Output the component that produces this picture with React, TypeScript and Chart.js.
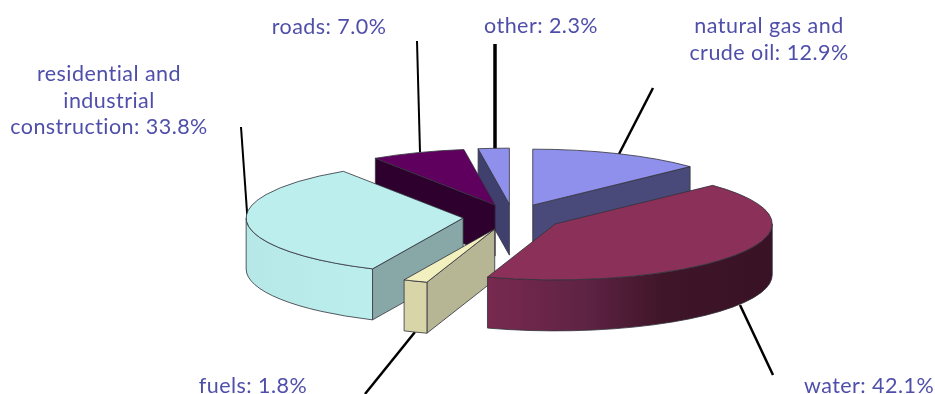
import React, { useEffect, useRef } from "react";
import { Chart, registerables } from "chart.js";

Chart.register(...registerables);

const categories = ["natural gas and crude oil", "water", "fuels", "residential and industrial construction", "roads", "other"];
const shares = [12.9, 42.1, 1.8, 33.8, 7.0, 2.3];
const labelLines = [["natural gas and", "crude oil"], ["water"], ["fuels"], ["residential and", "industrial", "construction"], ["roads"], ["other"]];

const topColors = ["#8f8fec", "#8b3058", "#f3f0bf", "#bdeeee", "#5f005f", "#8f8fec"];
const cutColors = ["#4a4a7a", "#6f284c", "#b7b694", "#88a8a8", "#2e002e", "#40406e"];
const rimStops: [number, string][][] = [
  [[0, "#4a4a7a"], [1, "#4a4a7a"]],
  [[0, "#78294f"], [0.35, "#5e2343"], [0.62, "#3f1528"], [1, "#391226"]],
  [[0, "#d8d6a8"], [1, "#d8d6a8"]],
  [[0, "#b6e8e8"], [0.6, "#bdeeee"], [1, "#8fb3b3"]],
  [[0, "#2e002e"], [1, "#2e002e"]],
  [[0, "#40406e"], [1, "#40406e"]],
];

// Back-to-front painting order of the exploded slices.
const paintOrder = [5, 4, 0, 3, 2, 1];

const RADIUS = 217;
const TILT = 0.258;
const EXPLODE = 50;
const DEPTH = 51;
const EDGE = "rgba(50,50,60,0.8)";

const labelCentres = [[769, 33], [869, 393], [253, 393], [109, 81], [329, 34], [541, 33]];
const LINE_STEP = 26.5;
const leaders = [
  [653, 88, 619, 154, 2.5],
  [740, 305, 773, 375, 2.5],
  [415, 332, 365, 394, 2.5],
  [241, 127, 248, 226, 2],
  [417, 41, 420, 152, 2],
  [495, 44, 495, 149, 3.5],
];

function drawSlice(ctx: CanvasRenderingContext2D, arc: any, index: number) {
  const a: number = arc.startAngle;
  const b: number = arc.endAngle;
  const mid = (a + b) / 2;
  const ax = arc.x + EXPLODE * Math.cos(mid);
  const ay = arc.y + EXPLODE * TILT * Math.sin(mid);
  const rim = (t: number): [number, number] => [ax + RADIUS * Math.cos(t), ay + RADIUS * TILT * Math.sin(t)];

  const cutFace = (t: number) => {
    const [x, y] = rim(t);
    ctx.beginPath();
    ctx.moveTo(ax, ay);
    ctx.lineTo(x, y);
    ctx.lineTo(x, y + DEPTH);
    ctx.lineTo(ax, ay + DEPTH);
    ctx.closePath();
    ctx.fillStyle = cutColors[index];
    ctx.fill();
    ctx.strokeStyle = EDGE;
    ctx.lineWidth = 1;
    ctx.stroke();
  };

  // Only the walls that face the viewer are painted.
  if (Math.cos(a) < 0) cutFace(a);
  if (Math.cos(b) > 0) cutFace(b);

  const TAU = Math.PI * 2;
  const from = Math.max(a, 0);
  const to = Math.min(b, Math.PI);
  const wrappedFrom = a < 0 && b <= 0 ? a + TAU : from;
  const wrappedTo = a < 0 && b <= 0 ? b + TAU : to;
  if (wrappedFrom < wrappedTo && wrappedTo <= Math.PI) {
    const [x0] = rim(wrappedTo);
    const [x1] = rim(wrappedFrom);
    const lo = Math.min(x0, x1);
    const hi = Math.max(x0, x1, ax + (wrappedFrom <= 0 ? RADIUS : 0));
    const gradient = ctx.createLinearGradient(lo, 0, hi, 0);
    rimStops[index].forEach(([stop, colour]) => gradient.addColorStop(stop, colour));
    ctx.beginPath();
    ctx.ellipse(ax, ay, RADIUS, RADIUS * TILT, 0, wrappedFrom, wrappedTo);
    ctx.ellipse(ax, ay + DEPTH, RADIUS, RADIUS * TILT, 0, wrappedTo, wrappedFrom, true);
    ctx.closePath();
    ctx.fillStyle = gradient;
    ctx.fill();
    ctx.strokeStyle = EDGE;
    ctx.lineWidth = 1;
    ctx.stroke();
  }

  // The library's arc element paints the top face, squashed into the tilted plane.
  ctx.save();
  ctx.translate(ax, ay);
  ctx.scale(1, TILT);
  ctx.translate(-arc.x, -arc.y);
  arc.draw(ctx);
  ctx.restore();

  ctx.beginPath();
  ctx.moveTo(ax, ay);
  ctx.ellipse(ax, ay, RADIUS, RADIUS * TILT, 0, a, b);
  ctx.closePath();
  ctx.strokeStyle = EDGE;
  ctx.lineWidth = 1;
  ctx.stroke();
}

const tiltedPie = {
  id: "tiltedPie",
  beforeDatasetsDraw(chart: any) {
    const { ctx } = chart;
    ctx.save();
    ctx.strokeStyle = "#000";
    leaders.forEach(([x0, y0, x1, y1, w]) => {
      ctx.lineWidth = w;
      ctx.beginPath();
      ctx.moveTo(x0, y0);
      ctx.lineTo(x1, y1);
      ctx.stroke();
    });
    ctx.restore();
  },
  beforeDatasetDraw(chart: any, args: any) {
    const { ctx } = chart;
    const arcs = args.meta.data;
    ctx.save();
    paintOrder.forEach((i) => drawSlice(ctx, arcs[i], i));
    ctx.restore();
    return false;
  },
  afterDatasetsDraw(chart: any) {
    const { ctx } = chart;
    ctx.save();
    ctx.font = "21.5px Lato";
    ctx.letterSpacing = "0.45px";
    ctx.fillStyle = "#4f4fab";
    ctx.textAlign = "center";
    ctx.textBaseline = "alphabetic";
    labelLines.forEach((lines, i) => {
      const [cx, cy] = labelCentres[i];
      lines.forEach((line, n) => {
        const text = n === lines.length - 1 ? `${line}: ${shares[i].toFixed(1)}%` : line;
        ctx.fillText(text, cx, cy + n * LINE_STEP);
      });
    });
    ctx.restore();
  },
};

export default function App() {
  const canvasRef = useRef<HTMLCanvasElement | null>(null);

  useEffect(() => {
    const canvas = canvasRef.current;
    if (!canvas) return;
    const chart = new Chart(canvas, {
      type: "pie",
      data: {
        labels: categories,
        datasets: [{ data: shares, backgroundColor: topColors, borderWidth: 0 }],
      },
      options: {
        responsive: false,
        animation: false,
        radius: RADIUS,
        layout: { padding: { left: 91, top: 40 } },
        plugins: { legend: { display: false }, tooltip: { enabled: false } },
      },
      plugins: [tiltedPie],
    } as any);
    return () => chart.destroy();
  }, []);

  return (
    <div style={{ position: "fixed", left: 0, top: 0, width: 935, height: 394, background: "#fff", overflow: "hidden" }}>
      <canvas ref={canvasRef} width={935} height={394} style={{ display: "block" }} />
    </div>
  );
}
